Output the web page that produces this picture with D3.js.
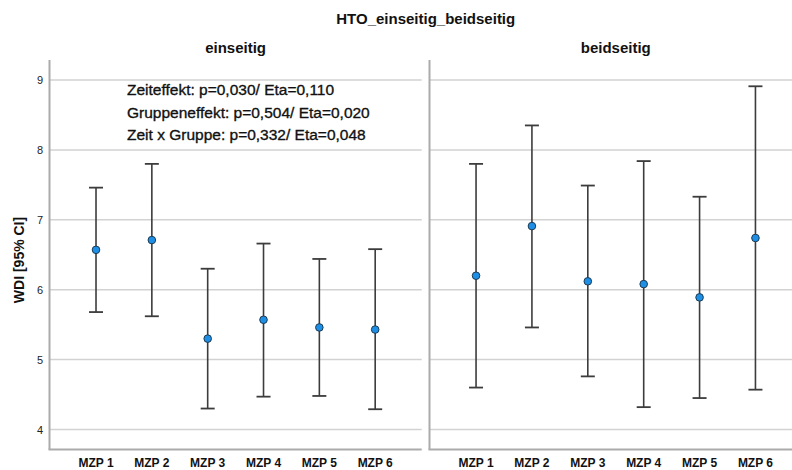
<!DOCTYPE html>
<html>
<head>
<meta charset="utf-8">
<script src="https://cdn.jsdelivr.net/npm/d3@7"></script>
<style>
  html, body { margin: 0; padding: 0; background: #fff; }
  svg { display: block; font-family: "Liberation Sans", Arial, sans-serif; }
</style>
</head>
<body>
<svg id="chart" width="792" height="470"></svg>
<script>
// Measurement points
const timepoints = ["MZP 1", "MZP 2", "MZP 3", "MZP 4", "MZP 5", "MZP 6"];
// Group panels
const groups = ["einseitig", "beidseitig"];

// Mean WDI and 95% CI bounds per group
const meanEinseitig  = [6.57, 6.71, 5.30, 5.57, 5.46, 5.43];
const lowerEinseitig = [5.68, 5.62, 4.30, 4.47, 4.48, 4.29];
const upperEinseitig = [7.46, 7.80, 6.30, 6.66, 6.44, 6.58];

const meanBeidseitig  = [6.20, 6.91, 6.12, 6.08, 5.89, 6.74];
const lowerBeidseitig = [4.60, 5.46, 4.76, 4.32, 4.45, 4.57];
const upperBeidseitig = [7.80, 8.35, 7.49, 7.84, 7.33, 8.91];

const yTicks = [4, 5, 6, 7, 8, 9];

const statLines = [
  "Zeiteffekt: p=0,030/ Eta=0,110",
  "Gruppeneffekt: p=0,504/ Eta=0,020",
  "Zeit x Gruppe: p=0,332/ Eta=0,048"
];

const chartTitle = "HTO_einseitig_beidseitig";
const yLabel = "WDI [95% CI]";

const series = [
  { name: groups[0], mean: meanEinseitig, lo: lowerEinseitig, hi: upperEinseitig },
  { name: groups[1], mean: meanBeidseitig, lo: lowerBeidseitig, hi: upperBeidseitig }
];

const svg = d3.select("#chart");

const plotTop = 60, plotBottom = 449.5;
const panels = [
  { x0: 49.5, x1: 421.7 },
  { x0: 429.5, x1: 802 }
];

const y = d3.scaleLinear().domain([3.714, 9.286]).range([plotBottom, plotTop]);

const gridColor = "#d2d2d2";
const axisColor = "#ababab";
const barColor = "#3c3c3c";

// Title, centred over both panels
svg.append("text")
  .attr("x", (panels[0].x0 + panels[1].x1) / 2).attr("y", 24)
  .attr("text-anchor", "middle")
  .attr("font-size", 15).attr("font-weight", "bold")
  .attr("fill", "#111")
  .text(chartTitle);

// Y axis label
svg.append("text")
  .attr("transform", "translate(24,260) rotate(-90)")
  .attr("text-anchor", "middle")
  .attr("font-size", 14).attr("font-weight", "bold")
  .attr("fill", "#111")
  .text(yLabel);

// Y tick labels (left panel only)
svg.append("g").selectAll("text")
  .data(yTicks).join("text")
  .attr("x", 43).attr("y", d => y(d) + 4)
  .attr("text-anchor", "end")
  .attr("font-size", 11).attr("fill", "#222")
  .text(d => d);

series.forEach((s, i) => {
  const p = panels[i];
  const g = svg.append("g");
  const x = d3.scalePoint().domain(timepoints).range([p.x0, p.x1]).padding(0.833);

  // Panel header
  g.append("text")
    .attr("x", (p.x0 + p.x1) / 2).attr("y", 53)
    .attr("text-anchor", "middle")
    .attr("font-size", 15).attr("font-weight", "bold")
    .attr("fill", "#111")
    .text(s.name);

  // Gridlines
  g.append("g").selectAll("line")
    .data(yTicks).join("line")
    .attr("x1", p.x0).attr("x2", p.x1)
    .attr("y1", d => y(d)).attr("y2", d => y(d))
    .attr("stroke", gridColor).attr("stroke-width", 1.5);

  // Axis frame: left and bottom
  g.append("line")
    .attr("x1", p.x0).attr("x2", p.x0)
    .attr("y1", plotTop).attr("y2", plotBottom)
    .attr("stroke", axisColor).attr("stroke-width", 2);
  g.append("line")
    .attr("x1", p.x0 - 1).attr("x2", p.x1)
    .attr("y1", plotBottom).attr("y2", plotBottom)
    .attr("stroke", axisColor).attr("stroke-width", 2);

  // X labels
  g.append("g").selectAll("text")
    .data(timepoints).join("text")
    .attr("x", d => x(d)).attr("y", 466.5)
    .attr("text-anchor", "middle")
    .attr("font-size", 12).attr("font-weight", "bold")
    .attr("fill", "#111")
    .text(d => d);

  const rows = timepoints.map((t, j) => ({ t, m: s.mean[j], lo: s.lo[j], hi: s.hi[j] }));

  // Error bars
  const eb = g.append("g").selectAll("g").data(rows).join("g");
  eb.append("line")
    .attr("x1", d => x(d.t)).attr("x2", d => x(d.t))
    .attr("y1", d => y(d.lo)).attr("y2", d => y(d.hi))
    .attr("stroke", barColor).attr("stroke-width", 1.6);
  eb.append("line")
    .attr("x1", d => x(d.t) - 7).attr("x2", d => x(d.t) + 7)
    .attr("y1", d => y(d.hi)).attr("y2", d => y(d.hi))
    .attr("stroke", barColor).attr("stroke-width", 1.8);
  eb.append("line")
    .attr("x1", d => x(d.t) - 7).attr("x2", d => x(d.t) + 7)
    .attr("y1", d => y(d.lo)).attr("y2", d => y(d.lo))
    .attr("stroke", barColor).attr("stroke-width", 1.8);

  // Means
  g.append("g").selectAll("circle")
    .data(rows).join("circle")
    .attr("cx", d => x(d.t)).attr("cy", d => y(d.m))
    .attr("r", 3.8)
    .attr("fill", "#1e8fe6")
    .attr("stroke", "#1b3a52").attr("stroke-width", 1);
});

// Statistics annotation in the left panel
svg.append("g").selectAll("text")
  .data(statLines).join("text")
  .attr("x", 127).attr("y", (d, i) => 95 + i * 22.5)
  .attr("font-size", 15.5)
  .attr("fill", "#111")
  .attr("stroke", "#111").attr("stroke-width", 0.35)
  .text(d => d);
</script>
</body>
</html>
